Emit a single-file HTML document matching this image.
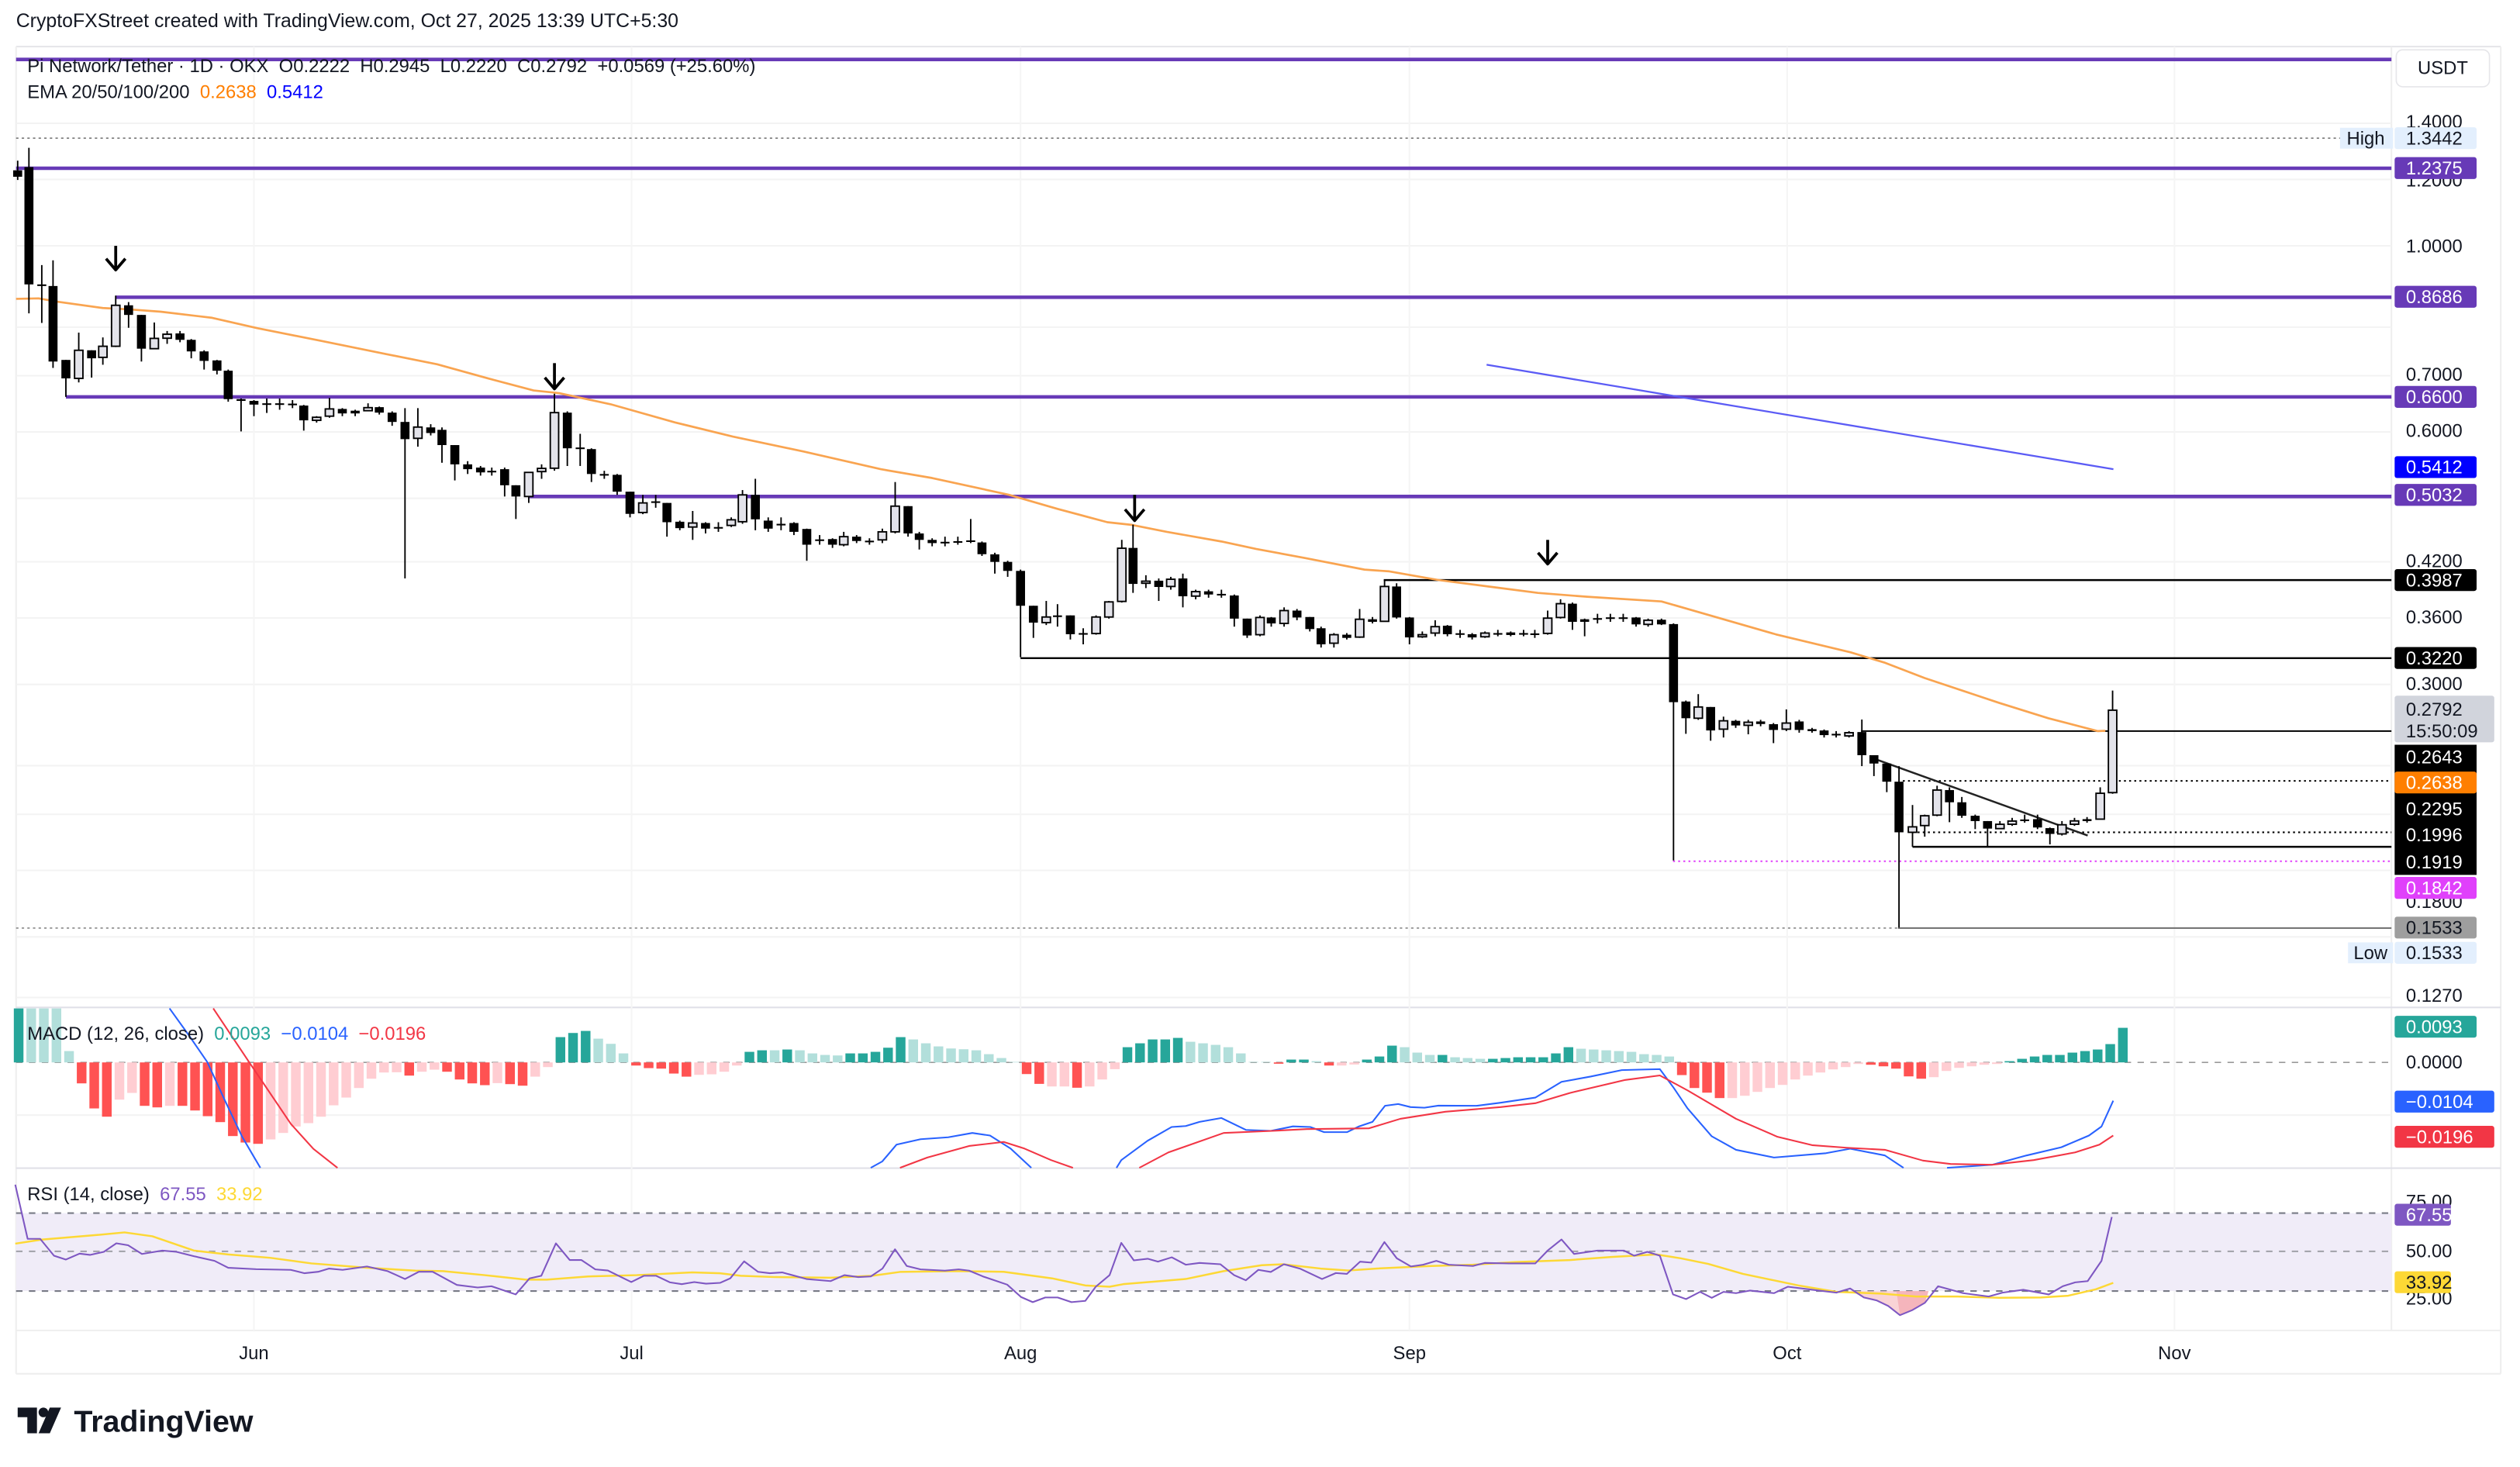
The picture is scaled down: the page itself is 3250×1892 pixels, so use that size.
<!DOCTYPE html>
<html><head><meta charset="utf-8"><style>
html,body{margin:0;padding:0;background:#fff;}
svg{display:block;}
text{font-family:"Liberation Sans",sans-serif;}
</style></head><body>
<svg id="c" xmlns="http://www.w3.org/2000/svg" width="3250" height="1892" viewBox="0 0 1568 913" preserveAspectRatio="none"></svg>
<script>
const S=document.getElementById('c');let h='';
const f=n=>(+n).toFixed(2);
function rect(x,y,w,hh,fill,extra){h+=`<rect x="${f(x)}" y="${f(y)}" width="${f(w)}" height="${f(hh)}" fill="${fill}" ${extra||''}/>`;}
function line(x1,y1,x2,y2,st,w,extra){h+=`<line x1="${f(x1)}" y1="${f(y1)}" x2="${f(x2)}" y2="${f(y2)}" stroke="${st}" stroke-width="${w}" ${extra||''}/>`;}
function txt(x,y,s,size,fill,extra){h+=`<text x="${x}" y="${y}" font-size="${size}" fill="${fill}" ${extra||''}>${s}</text>`;}
function poly(pts,st,w,extra){h+=`<polyline points="${pts.map(p=>f(p[0])+','+f(p[1])).join(' ')}" fill="none" stroke="${st}" stroke-width="${w}" stroke-linejoin="round" ${extra||''}/>`;}
const Y=p=>153-226.7*Math.log(p);
rect(0,0,1568,913,'#fff');
line(10,29,1556,29,'#e6e6ea',1);
line(10,29,10,855,'#eeeeee',1);
line(1488,29,1488,828,'#eeeeee',1);
line(1556,29,1556,855,'#eeeeee',1);
line(10,627,1556,627,'#e0e0e8',1);
line(10,727,1556,727,'#e0e0e8',1);
line(10,828,1556,828,'#eeeeee',1);
line(10,855,1556,855,'#eeeeee',1);
const ticks=[1.4,1.2,1.0,0.8,0.7,0.6,0.5,0.42,0.36,0.3,0.24,0.21,0.18,0.15,0.127];
ticks.forEach(t=>line(10,Y(t),1488,Y(t),'#f3f3f3',1));
[158,393,635,877,1112,1353].forEach(x=>{line(x,29,x,828,'#f5f5f5',1);});
[694,768].forEach(y=>line(10,y,1488,y,'#f3f3f3',1));
txt(10,17,'CryptoFXStreet created with TradingView.com, Oct 27, 2025 13:39 UTC+5:30',12,'#131722');
const P='#673ab7';
line(10,37,1488,37,P,2.2);
line(10,86,1488,86,'#777',0.8,'stroke-dasharray="1.5,2"');
line(10,104.7,1488,104.7,P,2.2);
line(72,185,1488,185,P,2.2);
line(41,247,1488,247,P,2.2);
line(329,309,1488,309,P,2.2);
line(861,361,1488,361,'#000',1.2);
line(635,409.6,1488,409.6,'#000',1.2);
line(1158,455,1488,455,'#000',1);
line(1184,486,1488,486,'#000',1,'stroke-dasharray="1.2,2"');
line(1190,518,1488,518,'#000',1,'stroke-dasharray="1.2,2"');
line(1190,527,1488,527,'#000',1.2);
line(1041,536,1488,536,'#e040fb',1,'stroke-dasharray="1.2,2"');
line(10,577.6,1181,577.6,'#888',0.8,'stroke-dasharray="1.5,2"');
line(1181,577.6,1488,577.6,'#777',1);
line(1168.4,473,1299,520,'#222',1.2);
poly([[10,186],[24,185.7],[36,187.8],[64,191.7],[80,192.5],[100,194],[132,197.8],[160,204.2],[200,212.2],[240,220.3],[272,226.7],[304,235.6],[332,243],[348,244.7],[380,251.6],[420,262.9],[456,271.7],[500,281],[548,292],[580,297.5],[627.6,307.9],[658,316.7],[689,325],[704.5,326.7],[726,331],[760,337],[781.5,341.6],[812,347.3],[849,354.5],[864.5,355.6],[895,361],[926,365],[957,369],[987.6,371.4],[1033.8,374.3],[1074.5,386],[1105,394.8],[1151.5,406],[1173,412.5],[1197.6,422],[1243.8,437.4],[1274.5,447],[1305.3,455],[1310,454.8]],'#f9a450',1.3);
line(925,227,1315,292,'#5b5bf5',1.1);
const C=[[11,106,110,100,112],[18,104,177,92,195],[26,177,178,165,201],[33,178,225,162,229],[41,224,235.5,224,247],[49,235.5,218,207,238],[57,218,223,218,235],[64,222.4,215.5,210,227],[72,215.5,190,184,216],[80,190,196,188,204],[88,196,217,196,225],[96,217,210.6,200.7,217],[104,210.5,208,206,214],[112,207.5,211.5,206,213],[119,211.5,218.7,211,223],[127,218.7,224.6,218,230],[135,224.3,230.7,224,233],[142,230.7,248.4,230,250],[150,248.4,249.5,248,268.5],[158,249.5,251.8,249,259],[166,251,251.5,248,257],[174,251,251.5,248,255],[182,251.2,251.8,249,254],[189,252.4,261.6,252,268],[197,261.6,259.7,259,263],[205,259,254.5,247.6,260],[213,254.5,257.3,254,259],[221,255.6,257.3,255,259],[229,255.6,253.7,251,256],[236,253.4,256.8,253,258],[244,256.8,262.6,256,265],[252,262.6,273.3,254,360],[260,272.8,265.8,254,278],[268,266,269.5,264,271],[275,267.5,277,266,288],[283,277,289,277,299],[291,289,292,287,295],[299,291,294,290,296],[306,293,294,291,296],[314,292,302,291,309],[321,302,309,302,323],[329,309,294,294,313],[337,293.5,291.5,289,298],[345,291.4,256.8,245,293],[353,256.8,279,256,290],[361,278.5,279.2,270,290],[368,279.5,295,279,300],[376,295,296,293,298],[384,295.5,306,295,308],[392,306,319.8,306,322],[400,319,313,308,320],[408,312,312.6,308,316],[415,313,325,313,334],[423,324.7,328.7,324,330],[431,328,325.5,318,336],[439,325.5,329,325,332],[447,328,328.5,325,331],[455,327,323.5,322,328],[462,324.7,308,305,326],[470,308,323.2,298,330],[478,324,329,322,331],[486,326,326.6,322,330],[494,325.5,331,325,333],[502,329.2,339,329,349],[510,335.7,336.3,333,339],[518,335.5,339,335,341],[525,339,334,331,340],[533,334,336.7,333,338],[541,336.5,337.5,335,339],[549,336,331,329,338],[557,331,315,300,332],[565,315,332,315,334],[572,332,336,331,342],[580,336,338,335,340],[588,337.2,337.8,334,340],[596,336.8,337.3,334,339],[604,336.3,337,323,338],[611,337.6,344.9,337,346],[619,345,349.7,344,357],[627,349.7,355.3,349,359],[635,355.3,377,354.5,409],[643,377,387.5,377,397],[651,387.5,384,374,389],[658,383,383.6,376,390],[666,383,394.7,383,398],[674,394,394.6,391,401],[682,394.3,384,383,395],[690,384,374.6,374,385],[698,374.3,341.2,336,375],[705,341,363.4,326.5,369],[713,363,361.7,358,366],[721,361.4,365.3,360,374],[728.5,365,360.5,359,367],[736,360,371.1,357,378],[744,371,368.2,367,373],[752,368,370,367,372],[760,369.6,370.2,367,372],[768,370.6,385,370,390],[776,385,395.5,385,397],[784,395,384.3,383,396],[791,384.3,388,384,390],[799,388,380,378,390],[807,380,384.3,379,386],[815,384,391.5,384,393],[822,391,401,390,403],[830,400.3,395,394,403],[838,395,397,394,398],[846,396.5,385.4,379,397],[854,385.4,387,384,388],[861.5,386.7,365,361,387],[869,365,384.3,363,385],[877,384.3,396.7,384,401],[885,396.3,395,393,397],[893,394,390,386,396],[900.6,389.4,394.7,389,396],[908.5,394.1,394.7,392,397],[916,394.7,396.7,394,398],[924,396.3,394,393,397],[932,394,394.6,392,396],[940,393.6,395.2,393,396],[948,394,394.6,392,396],[955,394.2,394.8,392,397],[963,394.2,384.7,380,395],[971,384.3,375.7,373,385],[978.4,375.7,387,375,392],[986,385.4,387,385,396],[994,384.7,385.3,382,388],[1002,384.2,384.8,382,387],[1010,384.2,384.8,382,387],[1018,384.3,388.6,384,390],[1025.5,388.6,386,385,390],[1033.8,385.7,388.6,385,389],[1041.3,388.4,437,388,535.5],[1049,436.6,447,436,456.7],[1056.7,447,440,432,448],[1064.4,440,454.6,440,461],[1072.4,453.8,448.6,446,459],[1080,448.6,451.5,448,453],[1087.8,451.4,449.5,448,457],[1095.5,449,450.6,448,452],[1103.5,450.7,454.3,450,462.5],[1111.5,453.8,450,441.5,455],[1119.5,449,454.3,448,456],[1127.5,453.8,455,453,456],[1135,454.6,457.5,454,459],[1142.5,456.7,457.3,455,459],[1150.5,458,456,455,459],[1158.5,455.6,470,447.8,476.8],[1166,470,475.2,470,483],[1174,475.2,486.5,475,493],[1181.6,486.5,518,476.8,577.3],[1190,518,514.6,501,527],[1197.6,513.8,507.7,507,520.7],[1205.3,507.3,491.7,489,508],[1213,491.7,499.3,490,511.7],[1220.7,499.3,507.7,496,509],[1229,507.7,511,507,516],[1236.7,511,515.7,511,526.6],[1244.4,515.7,513,511,516],[1252,513,511,509,514],[1259.8,510,511,507,512],[1267.8,509.8,515,507,516],[1275.5,515.4,519,515,525.5],[1283,519,513.3,511,520],[1290.8,513,510.9,509,514],[1298.6,509.8,511,508.5,512],[1306.8,509.8,493.7,490,510],[1314.5,493.3,442,429.8,494]];
C.forEach(([x,o,c,hi,lo])=>{
 line(x,hi,x,lo,'#000',0.9);
 const top=Math.min(o,c),bh=Math.max(Math.abs(o-c),1);
 if(c<o){rect(x-2.6,top,5.2,bh,'#e3e3ea','stroke="#000" stroke-width="0.9"');}
 else rect(x-2.8,top,5.6,bh,'#000');
});
function arrow(x,y1,y2){line(x,y1,x,y2,'#000',1.8);poly([[x-6,y2-7],[x,y2],[x+6,y2-7]],'#000',1.8);}
arrow(72,153,168);arrow(345,226,242);arrow(706,308,324);arrow(963,336,351);
txt(17,45,'Pi Network/Tether · 1D · OKX&#160;&#160;O0.2222&#160;&#160;H0.2945&#160;&#160;L0.2220&#160;&#160;C0.2792&#160;&#160;+0.0569 (+25.60%)',11.5,'#131722');
txt(17,61,'EMA 20/50/100/200&#160;&#160;<tspan fill="#ff7f00">0.2638</tspan>&#160;&#160;<tspan fill="#0000ff">0.5412</tspan>',11.5,'#131722');
line(10,661.2,1488,661.2,'#9a9a9a',0.8,'stroke-dasharray="4,4"');
const H1='T33 t33 t33 t33 t198 R323 R420 R452 r386 r360 R410 R416 r410 R410 R428 R450 R473 R527 R552 R557 r540 r515 r490 r477 r452 r408 r378 r341 r305 r281 r280 R293 r278 r270 R278 R308 R323 R330 r322 R326 R332 r297 r260 T144 T128 T120 t150 t170 t207 R254 R264 R266 R285 R297 r290 r288 r278 r254 T201 T195 t195 T192 t195 t207 t213 t215 T207 T207 T201 T185 T144 t153 t168 t180 t188 t191 t195 t210 t225 t240 R287 R325 r335 r335 R340 r335 r308 r268 T183 T168 T153 T153 T147 t162 t168 t174 t183 t207 t240 t240 R247 T231 T231 t237 R254 r254 r250 T231 T219 T177 t183 t204 t213 T213 t222 t225 t228 T228 T225 T222 T222 T222 T207 T183 t189 t192 t195 t198 t201 t210 t213 t219 R291 R341 R359 R380 r380 r371 r356 r341 r329 r308 r293 r281 r269 r260 r248 R251 R257 R266 R296 R305 r299 r275 r263 r257 r251 r248 T237 T228 T219 T213 T213 T204 T198 T192 T171 T108'.split(' ');
const col={T:'#26a69a',t:'#b2dfdb',R:'#ff5252',r:'#ffcdd2'};
H1.forEach((s,j)=>{const x=11.6+7.84*j;let y=622.3+(+s.slice(1))*0.1608;y=Math.max(627.6,y);const t=Math.min(y,661.2),hh=Math.abs(y-661.2);rect(x-3,t,6,hh,col[s[0]]);});
poly([[105.5,627.6],[118,645],[129,661],[140,685],[150.7,707.5],[158,720],[162,726.8]],'#2962ff',1);
poly([[132.7,627.6],[155,661],[181,699.5],[195,715],[210,726.8]],'#f23645',1);
poly([[541.8,726.8],[549,722.8],[557.8,712.4],[572.8,709],[590,707.8],[605,705.1],[616,706.7],[628.8,714.8],[641.7,726.8]],'#2962ff',1);
poly([[560,726.8],[577,720.4],[603,713.2],[624.5,710.7],[637.4,714.8],[654,722],[667.6,726.8]],'#f23645',1);
poly([[694.7,726.8],[697.7,722],[714,710],[729,701.4],[737.8,700.8],[746.4,698.2],[760,695.8],[775.2,703.2],[790.7,703.8],[804.5,701],[815.3,701.4],[823.9,704.6],[838.1,704.6],[845.4,701.1],[854,698.2],[861.8,688.2],[870,687.1],[877.7,689],[886.3,689.4],[895,688.1],[918.6,688.2],[933.7,686.3],[955.3,683.1],[971.6,673.3],[989.7,670],[1009.1,666],[1019.9,665.7],[1032.8,665.4],[1041.4,677],[1050,689.8],[1065.1,707.2],[1080.2,715.6],[1103.8,720.4],[1136.2,717.7],[1151.2,714.9],[1172.8,719.1],[1184.4,726.8]],'#2962ff',1);
poly([[1211.5,726.8],[1239.5,724.9],[1261,719.1],[1282.6,714],[1299.8,706.7],[1307.6,701.1],[1314.9,685]],'#2962ff',1);
poly([[708.9,726.8],[727,717.2],[761.4,705.1],[791.6,703.8],[813.1,702.7],[851.9,702.2],[871.3,696.3],[899.3,691.9],[933.7,689],[955.3,686.6],[976.8,680.2],[1011.3,672.1],[1032.8,669.3],[1050,678.6],[1080.2,696.3],[1106,707.5],[1127.5,712.7],[1149,714.3],[1172.8,715.6],[1196.5,722.3],[1213.7,724.4],[1239.5,724.9],[1265.4,722],[1291.2,717.2],[1306.3,712.4],[1314.9,706.7]],'#f23645',1);
txt(17,647,'MACD (12, 26, close)&#160;&#160;<tspan fill="#26a69a">0.0093</tspan>&#160;&#160;<tspan fill="#2962ff">−0.0104</tspan>&#160;&#160;<tspan fill="#f23645">−0.0196</tspan>',11.5,'#131722');
rect(10,755,1478,48.5,'#f0ecf8');
line(10,755,1488,755,'#787b86',1,'stroke-dasharray="4,4"');
line(10,778.8,1488,778.8,'#a0a0a8',1,'stroke-dasharray="4,4"');
line(10,803.5,1488,803.5,'#787b86',1,'stroke-dasharray="4,4"');
h+='<polygon points="1151.2,803.5 1159.8,807.5 1167.6,809.3 1174.9,812.8 1182.2,818.5 1190,815.3 1197.7,810.8 1200,803.5" fill="#f8c8cc" opacity="0.8"/>';
h+='<polygon points="1180,803.5 1182.2,818.5 1190,815.3 1197.7,810.8 1200,803.5" fill="#f4a8b0" opacity="0.7"/>';
poly([[9.5,774],[25.8,771.5],[60.3,768.6],[77.5,767],[94.8,769.4],[120.6,778.3],[142,780.7],[168,782.8],[193.8,786.3],[228.3,789],[258.4,790.8],[275.6,791.1],[301.5,793.6],[327.3,796.4],[340.2,796.4],[366,794.4],[396.2,793.6],[430.7,791.9],[448,792.4],[460.9,794],[482.4,794.8],[516.8,795.2],[542.7,794],[559.9,791.6],[594.4,791.1],[624.5,791.5],[654.7,795.6],[675.3,800],[690.4,800.8],[699,799.2],[718.4,797.6],[737.8,796],[761.4,791.1],[785.1,787.4],[798.1,786.8],[821.7,789.5],[839,790.7],[856.2,789.5],[890.7,787.9],[916.5,787.1],[942.3,785.5],[976.8,784.2],[1002.6,782.3],[1030.6,780.7],[1045.7,783.1],[1062.9,786.6],[1084.5,792.8],[1118.9,800],[1142.6,804],[1170.6,805.1],[1192.1,806.9],[1218,806.9],[1243.8,807.7],[1269.7,807.5],[1286.9,806.4],[1304.1,802.4],[1314.9,798.4]],'#fdd835',1.2);
poly([[9.5,737.3],[17.2,771],[25,771],[33.6,781.5],[41,783.9],[49.5,780.2],[56,781],[64.6,779.1],[72.4,773.8],[79.7,775],[88.3,780.4],[101,778.3],[109.8,779.1],[120.6,781.8],[133.5,784.7],[142,789],[159.4,789.9],[180.9,790.3],[189.5,792.4],[198,791.5],[204.6,789.5],[213.2,790.3],[228.3,788.2],[241.2,791.1],[252,796],[260.6,791.5],[269.2,791.5],[284.3,799.7],[297.2,801.3],[305.8,800.5],[320.9,805.6],[329.5,795.6],[336.8,794],[345.9,773.8],[354.5,784.2],[361.8,784.2],[370.4,790],[378.2,790.7],[392.8,797.9],[400.6,794],[408.3,794],[416.9,798.1],[424.2,799.2],[432,797.9],[439.3,798.9],[448,798.4],[454.4,795.6],[463,785],[471.6,791.5],[479,792.4],[486.7,791.9],[501.8,796],[516.8,797.3],[525.4,793.6],[534,794.8],[541.8,794.4],[549.1,789.5],[556.9,777.5],[564.2,787.9],[572.8,790],[587.9,790.8],[596.5,790],[603,790.8],[611.6,794.4],[626.7,799.5],[635.3,807.2],[642.6,810.4],[650.4,807.5],[658.1,807.5],[666.7,810.4],[675.3,809.6],[681.8,800.8],[690.4,793.6],[697.7,773.5],[705.5,784.4],[714.1,783.4],[720.5,785.2],[729.1,782.5],[737.8,787.1],[746.4,786],[759.3,786.8],[767.9,793.6],[775.2,796.8],[783,790.3],[790.7,791.6],[798.9,786.8],[808.8,789.5],[822.6,796],[831.2,792.3],[838.1,792.8],[846.3,785.2],[853.2,785.8],[861.4,773],[869.1,783.1],[877.9,788.2],[885.5,787.1],[893.7,784.7],[901.4,787.1],[916.5,787.9],[923.8,786],[938.9,786.3],[955.3,786.3],[963,778.3],[971.6,771.4],[979.4,780.4],[994,778.3],[1010.4,778.3],[1016.8,781.5],[1025,779.1],[1032.8,781.5],[1041,805.6],[1049.1,808.5],[1057.8,804],[1065.1,807.7],[1072.4,804],[1080.2,804.8],[1088.8,803.2],[1103.8,804.8],[1112.5,800.8],[1131.8,803.2],[1142.6,804.5],[1151.2,801.9],[1159.8,807.5],[1167.6,809.3],[1174.9,812.8],[1182.2,818.5],[1190,815.3],[1197.7,810.8],[1205.9,800.5],[1221.4,804.8],[1237.4,806.9],[1246,804.5],[1258.9,802.7],[1274.8,805.6],[1283.5,800.5],[1291.2,798.1],[1299,797.3],[1307.6,784.7],[1314,757.4]],'#7e57c2',1);
txt(17,747,'RSI (14, close)&#160;&#160;<tspan fill="#7e57c2">67.55</tspan>&#160;&#160;<tspan fill="#fdd835">33.92</tspan>',11.5,'#131722');
[['Jun',158],['Jul',393],['Aug',635],['Sep',877],['Oct',1112],['Nov',1353]].forEach(([s,x])=>txt(x,846,s,11.5,'#131722','text-anchor="middle"'));
function ax(y,s){txt(1497,y+4,s,11.5,'#131722');}
function lab(y,s,bg,fg,w){rect(1490,y-6.8,w||51,13.6,bg,'rx="1.5"');txt(1497,y+4,s,11.5,fg);}
rect(1491,31,58,23,'#fff','rx="4" stroke="#e6e6ea" stroke-width="0.8"');
txt(1520,46,'USDT',11.5,'#131722','text-anchor="middle"');
ax(75.6,'1.4000');ax(112,'1.2000');ax(153,'1.0000');ax(233,'0.7000');ax(268,'0.6000');ax(349,'0.4200');ax(384,'0.3600');ax(425.5,'0.3000');ax(561,'0.1800');ax(619.5,'0.1270');
rect(1456,79.5,33,13,'#e3effd');txt(1472,90,'High',11.5,'#131722','text-anchor="middle"');
lab(86,'1.3442','#e3effd','#131722');
lab(104.6,'1.2375',P,'#fff');
lab(184.7,'0.8686',P,'#fff');
lab(247,'0.6600',P,'#fff');
lab(290.7,'0.5412','#0000ff','#fff');
lab(308,'0.5032',P,'#fff');
lab(361,'0.3987','#000','#fff');
lab(409.5,'0.3220','#000','#fff');
rect(1490,433,62,29,'#d1d4dc','rx="1.5"');txt(1497,445.5,'0.2792',11.5,'#131722');txt(1497,459,'15:50:09',11.5,'#131722');
rect(1490,463.5,51,81,'#000');
txt(1497,475,'0.2643',11.5,'#fff');
lab(487,'0.2638','#ff7f00','#fff');
txt(1497,507.5,'0.2295',11.5,'#fff');txt(1497,523.5,'0.1996',11.5,'#fff');txt(1497,540.5,'0.1919',11.5,'#fff');
lab(552.6,'0.1842','#e040fb','#fff');
lab(577.3,'0.1533','#9e9e9e','#131722');
rect(1461,586.5,28,13,'#e3effd');txt(1475,597,'Low',11.5,'#131722','text-anchor="middle"');
lab(593,'0.1533','#e3effd','#131722');
lab(639,'0.0093','#26a69a','#fff');
ax(661,'0.0000');
lab(685.6,'−0.0104','#2962ff','#fff',62);
lab(707.5,'−0.0196','#f23645','#fff',62);
ax(747.5,'75.00');ax(778.5,'50.00');ax(808,'25.00');
lab(756,'67.55','#7e57c2','#fff',35);
lab(798,'33.92','#fdd835','#131722',35);
h+='<path d="M11 876 h12 v16 h-6 v-10 h-6 z" fill="#131722"/><circle cx="27" cy="879" r="3" fill="#131722"/><path d="M31 876 h7 l-7 16 h-7 z" fill="#131722"/>';
txt(46,891,'TradingView',19,'#131722','font-weight="bold"');
S.innerHTML=h;
</script>
</body></html>
